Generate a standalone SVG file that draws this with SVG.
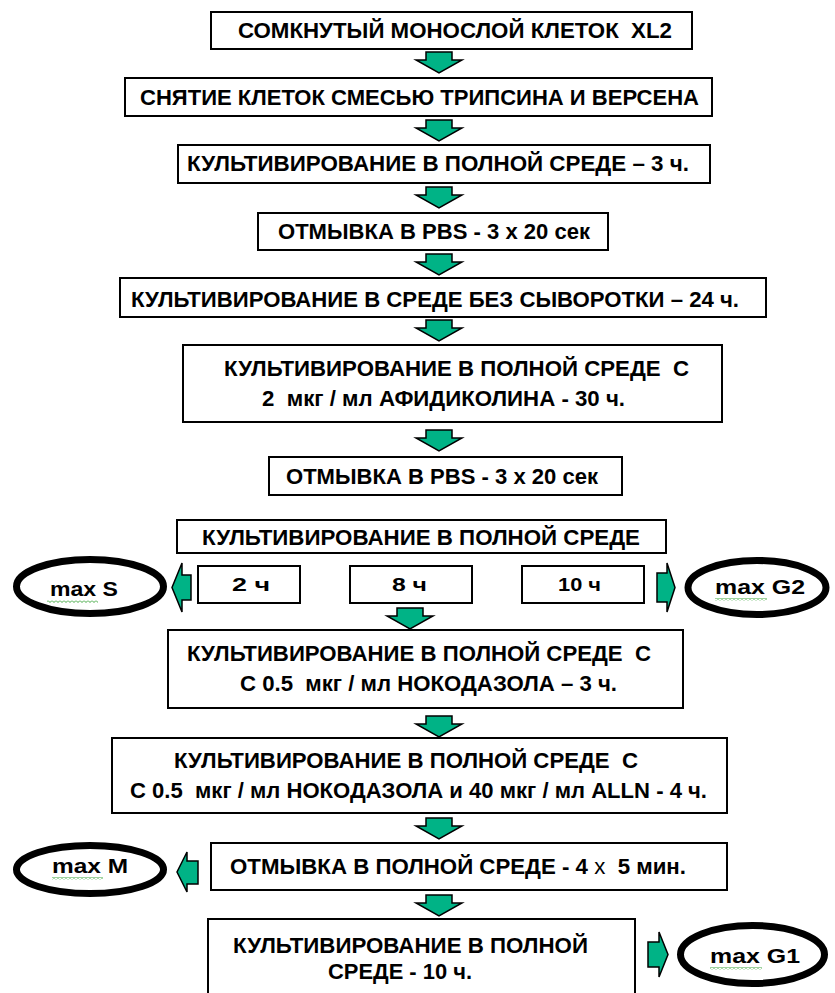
<svg xmlns="http://www.w3.org/2000/svg" width="835" height="993" viewBox="0 0 835 993">
<style>
.box{fill:#fff;stroke:#000;stroke-width:2}
.t{font-family:"Liberation Sans",Arial,sans-serif;font-weight:bold;font-size:22px;fill:#000;white-space:pre}
.s{font-size:19px}
.e{font-size:20px}
.arr{fill:#00b386;stroke:#000;stroke-width:1.5;stroke-linejoin:miter}
.ell{fill:#fff;stroke:#000;stroke-width:7}
.sq{fill:url(#sq)}
</style>
<defs>
<path id="down" d="M-13,0 H13 V8 H23 L0,21 L-23,8 H-13 Z"/>
<pattern id="sq" width="4" height="3" patternUnits="userSpaceOnUse">
<polyline points="0,0.5 2,2.5 4,0.5" fill="none" stroke="#2a9d2a" stroke-width="0.9"/>
</pattern>
</defs>

<g id="connectors">
<use href="#down" class="arr" x="439" y="52"/>
<use href="#down" class="arr" x="439" y="120"/>
<use href="#down" class="arr" x="439" y="187"/>
<use href="#down" class="arr" x="439" y="254"/>
<use href="#down" class="arr" x="439" y="320"/>
<use href="#down" class="arr" x="439" y="430"/>
<use href="#down" class="arr" x="410" y="608"/>
<use href="#down" class="arr" x="439" y="716"/>
<use href="#down" class="arr" x="439" y="818"/>
<use href="#down" class="arr" x="439" y="895"/>
<path class="arr" d="M191,575 V600 H182 V612 L172,587.5 L182,563 V575 Z"/>
<path class="arr" d="M657,573 V602 H667 V612 L675,587.5 L667,563 V573 Z"/>
<path class="arr" d="M198,861 V884 H187 V892 L177,872 L187,852 V861 Z"/>
<path class="arr" d="M648,942 V967 H659 V977 L668,954.5 L659,932 V942 Z"/>
</g>

<g id="n1"><rect class="box" x="211" y="12" width="481" height="37"/>
<text class="t" x="238" y="38" textLength="434" lengthAdjust="spacingAndGlyphs">СОМКНУТЫЙ МОНОСЛОЙ КЛЕТОК  XL2</text></g>

<g id="n2"><rect class="box" x="125" y="78" width="587" height="38"/>
<text class="t" x="140" y="105" textLength="559" lengthAdjust="spacingAndGlyphs">СНЯТИЕ КЛЕТОК СМЕСЬЮ ТРИПСИНА И ВЕРСЕНА</text></g>

<g id="n3"><rect class="box" x="178" y="145" width="532" height="38"/>
<text class="t" x="187" y="171" textLength="502" lengthAdjust="spacingAndGlyphs">КУЛЬТИВИРОВАНИЕ В ПОЛНОЙ СРЕДЕ – 3 ч.</text></g>

<g id="n4"><rect class="box" x="258" y="213" width="350" height="37"/>
<text class="t" x="278" y="239" textLength="312" lengthAdjust="spacingAndGlyphs">ОТМЫВКА В PBS - 3 х 20 сек</text></g>

<g id="n5"><rect class="box" x="120" y="278" width="646" height="39"/>
<text class="t" x="131" y="307" textLength="608" lengthAdjust="spacingAndGlyphs">КУЛЬТИВИРОВАНИЕ В СРЕДЕ БЕЗ СЫВОРОТКИ – 24 ч.</text></g>

<g id="n6"><rect class="box" x="183" y="345" width="539" height="77"/>
<text class="t" x="224" y="376" textLength="465" lengthAdjust="spacingAndGlyphs">КУЛЬТИВИРОВАНИЕ В ПОЛНОЙ СРЕДЕ  С</text>
<text class="t" x="262" y="406" textLength="363" lengthAdjust="spacingAndGlyphs">2  мкг / мл АФИДИКОЛИНА - 30 ч.</text></g>

<g id="n7"><rect class="box" x="269" y="457" width="353" height="38"/>
<text class="t" x="286" y="484" textLength="312" lengthAdjust="spacingAndGlyphs">ОТМЫВКА В PBS - 3 х 20 сек</text></g>

<g id="n8"><rect class="box" x="177" y="520" width="489" height="33"/>
<text class="t" x="202" y="545" textLength="438" lengthAdjust="spacingAndGlyphs">КУЛЬТИВИРОВАНИЕ В ПОЛНОЙ СРЕДЕ</text></g>

<g id="n9a"><rect class="box" x="198" y="566" width="102" height="37"/>
<text class="t s" x="232" y="591" textLength="38" lengthAdjust="spacingAndGlyphs">2 ч</text></g>
<g id="n9b"><rect class="box" x="350" y="566" width="122" height="37"/>
<text class="t s" x="392" y="591" textLength="35" lengthAdjust="spacingAndGlyphs">8 ч</text></g>
<g id="n9c"><rect class="box" x="522" y="566" width="122" height="37"/>
<text class="t s" x="558" y="591" textLength="43" lengthAdjust="spacingAndGlyphs">10 ч</text></g>

<g id="maxS"><ellipse class="ell" cx="90" cy="586.5" rx="73.5" ry="27"/>
<text class="t e" x="50" y="596" textLength="68" lengthAdjust="spacingAndGlyphs">max S</text>
<rect class="sq" x="47" y="600" width="51" height="3"/></g>

<g id="maxG2"><ellipse class="ell" cx="757" cy="587.5" rx="69" ry="27"/>
<text class="t e" x="715" y="594" textLength="90" lengthAdjust="spacingAndGlyphs">max G2</text>
<rect class="sq" x="715" y="598" width="52" height="3"/></g>

<g id="n10"><rect class="box" x="168" y="630" width="515" height="78"/>
<text class="t" x="187" y="661" textLength="464" lengthAdjust="spacingAndGlyphs">КУЛЬТИВИРОВАНИЕ В ПОЛНОЙ СРЕДЕ  С</text>
<text class="t" x="240" y="691" textLength="377" lengthAdjust="spacingAndGlyphs">С 0.5  мкг / мл НОКОДАЗОЛА – 3 ч.</text></g>

<g id="n11"><rect class="box" x="112" y="738" width="615" height="75"/>
<text class="t" x="174" y="768" textLength="464" lengthAdjust="spacingAndGlyphs">КУЛЬТИВИРОВАНИЕ В ПОЛНОЙ СРЕДЕ  С</text>
<text class="t" x="130" y="798" textLength="577" lengthAdjust="spacingAndGlyphs">С 0.5  мкг / мл НОКОДАЗОЛА и 40 мкг / мл ALLN - 4 ч.</text></g>

<g id="n12"><rect class="box" x="211" y="843" width="516" height="47"/>
<text class="t" x="230" y="874" textLength="456" lengthAdjust="spacingAndGlyphs">ОТМЫВКА В ПОЛНОЙ СРЕДЕ - 4 <tspan font-weight="normal">х</tspan>  5 мин.</text></g>

<g id="maxM"><ellipse class="ell" cx="90" cy="869.5" rx="73.5" ry="24"/>
<text class="t e" x="52" y="873" textLength="76" lengthAdjust="spacingAndGlyphs">max M</text>
<rect class="sq" x="52" y="877" width="51" height="3"/></g>

<g id="n13"><rect class="box" x="208" y="919" width="427" height="90"/>
<text class="t" x="233" y="953" textLength="355" lengthAdjust="spacingAndGlyphs">КУЛЬТИВИРОВАНИЕ В ПОЛНОЙ</text>
<text class="t" x="328" y="979" textLength="144" lengthAdjust="spacingAndGlyphs">СРЕДЕ - 10 ч.</text></g>

<g id="maxG1"><ellipse class="ell" cx="752.5" cy="954.5" rx="72" ry="29"/>
<text class="t e" x="710" y="963" textLength="90" lengthAdjust="spacingAndGlyphs">max G1</text>
<rect class="sq" x="710" y="967" width="52" height="3"/></g>
</svg>
